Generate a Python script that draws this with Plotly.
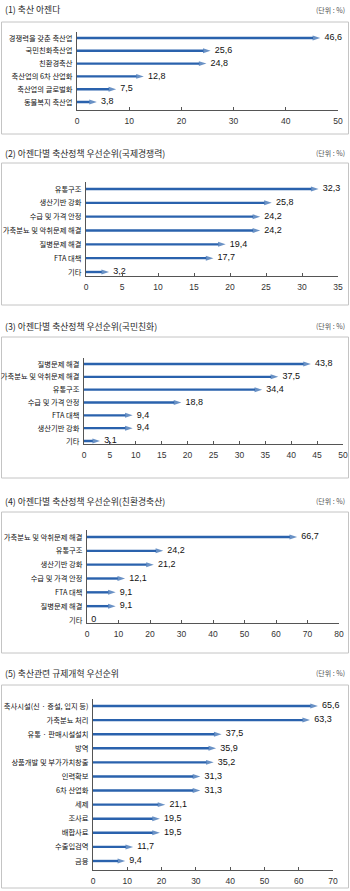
import plotly.graph_objects as go

W, H = 350, 891

# ---- data -------------------------------------------------------------
titles = [
    "(1) 축산 아젠다",
    "(2) 아젠다별 축산정책 우선순위(국제경쟁력)",
    "(3) 아젠다별 축산정책 우선순위(국민친화)",
    "(4) 아젠다별 축산정책 우선순위(친환경축산)",
    "(5) 축산관련 규제개혁 우선순위",
]
unit_label = "(단위 : %)"

p1_labels = ["경쟁력을 갖춘 축산업", "국민친화축산업", "친환경축산", "축산업의 6차 산업화",
             "축산업의 글로벌화", "동물복지 축산업"]
p1_values = [46.6, 25.6, 24.8, 12.8, 7.5, 3.8]
p1_ticks = [0, 10, 20, 30, 40, 50]

p2_labels = ["유통구조", "생산기반 강화", "수급 및 가격 안정", "가축분뇨 및 악취문제 해결",
             "질병문제 해결", "FTA 대책", "기타"]
p2_values = [32.3, 25.8, 24.2, 24.2, 19.4, 17.7, 3.2]
p2_ticks = [0, 5, 10, 15, 20, 25, 30, 35]

p3_labels = ["질병문제 해결", "가축분뇨 및 악취문제 해결", "유통구조", "수급 및 가격 안정",
             "FTA 대책", "생산기반 강화", "기타"]
p3_values = [43.8, 37.5, 34.4, 18.8, 9.4, 9.4, 3.1]
p3_ticks = [0, 5, 10, 15, 20, 25, 30, 35, 40, 45, 50]

p4_labels = ["가축분뇨 및 악취문제 해결", "유통구조", "생산기반 강화", "수급 및 가격 안정",
             "FTA 대책", "질병문제 해결", "기타"]
p4_values = [66.7, 24.2, 21.2, 12.1, 9.1, 9.1, 0]
p4_ticks = [0, 10, 20, 30, 40, 50, 60, 70, 80]

p5_labels = ["축사시설(신 · 증설, 입지 등)", "가축분뇨 처리", "유통 · 판매시설설치", "방역",
             "상품개발 및 부가가치창출", "인력확보", "6차 산업화", "세제", "조사료",
             "배합사료", "수출입검역", "금융"]
p5_values = [65.6, 63.3, 37.5, 35.9, 35.2, 31.3, 31.3, 21.1, 19.5, 19.5, 11.7, 9.4]
p5_ticks = [0, 10, 20, 30, 40, 50, 60, 70]

panels = [
    (p1_labels, p1_values, p1_ticks),
    (p2_labels, p2_values, p2_ticks),
    (p3_labels, p3_values, p3_ticks),
    (p4_labels, p4_values, p4_ticks),
    (p5_labels, p5_values, p5_ticks),
]

# ---- layout geometry (pixels from top-left of the page) -----------------
geometry = [
    dict(box=(22, 134), title_y=10, x0=77, x1=338, first=38, last=102, axis=110),
    dict(box=(163, 305), title_y=153, x0=86, x1=338, first=189, last=272, axis=276),
    dict(box=(337, 478), title_y=326, x0=84, x1=343, first=364, last=441, axis=444),
    dict(box=(512, 653), title_y=501, x0=87, x1=339, first=537, last=620, axis=623),
    dict(box=(685, 888), title_y=673, x0=93, x1=333, first=706, last=861, axis=870),
]

BLUE = "#2a62ad"
AXIS = "#555555"
NARROW = "Liberation Sans Narrow, Arial Narrow, Liberation Sans, sans-serif"
KR = "Noto Sans CJK KR, sans-serif"


def fmt(v):
    return "0" if v == 0 else f"{v:.1f}".replace(".", ",")


fig = go.Figure()
shapes, annotations = [], []

for i, ((labels, values, ticks), g) in enumerate(zip(panels, geometry), start=1):
    xa = "x" if i == 1 else f"x{i}"
    ya = "y" if i == 1 else f"y{i}"

    # arrows: shaft from 0 to the value, arrow head at the value
    for lab, v in zip(labels, values):
        if v == 0:
            continue
        fig.add_trace(go.Scatter(
            x=[0, v], y=[lab, lab], xaxis=xa, yaxis=ya,
            mode="lines+markers",
            line=dict(color=BLUE, width=2.4),
            marker=dict(symbol="arrow", angleref="previous", size=[0, 8],
                        color=BLUE, line=dict(width=0)),
            hoverinfo="skip", showlegend=False, cliponaxis=False,
        ))

    # value labels
    fig.add_trace(go.Scatter(
        x=values, y=labels, xaxis=xa, yaxis=ya,
        mode="markers+text",
        marker=dict(size=5, color="rgba(0,0,0,0)"),
        text=[fmt(v) for v in values], textposition="middle right",
        textfont=dict(family=NARROW, size=9, color="#111111"),
        hoverinfo="skip", showlegend=False, cliponaxis=False,
    ))

    n = len(values)
    sp = (g["last"] - g["first"]) / (n - 1)
    top = g["first"] - 0.5 * sp
    yrange = [n - 1 + (g["axis"] - g["last"]) / sp, -0.5]

    fig.update_layout(**{
        ("xaxis" if i == 1 else f"xaxis{i}"): dict(
            domain=[g["x0"] / W, g["x1"] / W], anchor=ya,
            range=[ticks[0], ticks[-1]], tickvals=ticks,
            showline=True, linecolor=AXIS, linewidth=1,
            ticks="inside", ticklen=3, tickcolor=AXIS, tickwidth=1,
            showgrid=False, zeroline=False, automargin=False,
            ticklabelstandoff=3,
            tickfont=dict(family=NARROW, size=8.5, color="#333333"),
        ),
        ("yaxis" if i == 1 else f"yaxis{i}"): dict(
            domain=[1 - g["axis"] / H, 1 - top / H], anchor=xa,
            type="category", categoryorder="array", categoryarray=labels,
            range=yrange, showline=True, linecolor=AXIS, linewidth=1,
            ticks="", showgrid=False, zeroline=False, automargin=False,
            ticklabelstandoff=2,
            tickfont=dict(family=KR, size=7.3, color="#111111"),
        ),
    })

    # panel frame
    shapes.append(dict(
        type="rect", xref="paper", yref="paper", layer="below",
        x0=1.5 / W, x1=348.5 / W, y0=1 - g["box"][1] / H, y1=1 - g["box"][0] / H,
        line=dict(color="#c4c4c4", width=1), fillcolor="white",
    ))
    # panel title and unit
    annotations.append(dict(
        xref="paper", yref="paper", x=3 / W, y=1 - g["title_y"] / H,
        xanchor="left", yanchor="middle", showarrow=False, text=titles[i - 1],
        font=dict(family=KR, size=8.8, color="#2a2a2a"),
    ))
    annotations.append(dict(
        xref="paper", yref="paper", x=347 / W, y=1 - g["title_y"] / H,
        xanchor="right", yanchor="middle", showarrow=False, text=unit_label,
        font=dict(family=KR, size=7, color="#555555"),
    ))

fig.update_layout(
    template="none",
    width=W, height=H, autosize=False,
    margin=dict(l=0, r=0, t=0, b=0),
    paper_bgcolor="white", plot_bgcolor="rgba(0,0,0,0)",
    showlegend=False, shapes=shapes, annotations=annotations,
    font=dict(family=KR),
)

fig.write_html("out.html", config=dict(displayModeBar=False))
